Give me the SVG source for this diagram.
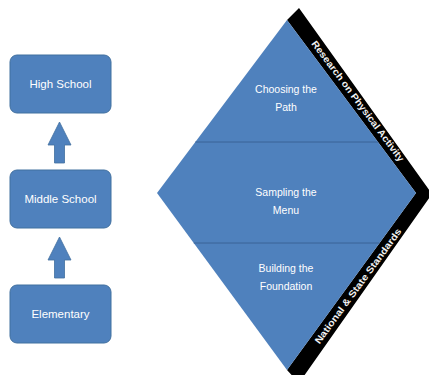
<svg xmlns="http://www.w3.org/2000/svg" width="429" height="375" viewBox="0 0 429 375">
<style>
.box{fill:#4f81bd;stroke:#41709f;stroke-width:1}
.t{font-family:"Liberation Sans",Arial,sans-serif;font-size:10.5px;fill:#ffffff;text-anchor:middle}
.lt{font-family:"Liberation Sans",Arial,sans-serif;font-size:11.5px;fill:#ffffff;text-anchor:middle}
.bt{font-family:"Liberation Sans",Arial,sans-serif;font-size:9.5px;font-weight:bold;fill:#f2f2f2;text-anchor:middle}
.arr{fill:#4f81bd;stroke:#41709f;stroke-width:0.8}
.div{stroke:#3a6396;stroke-width:1}
</style>
<rect width="429" height="375" fill="#ffffff"/>
<g id="high-school">
<rect class="box" x="10" y="55" width="101" height="58" rx="7"/>
<text class="lt" x="60.5" y="88">High School</text>
</g>
<g id="middle-school">
<rect class="box" x="10" y="170" width="101" height="58" rx="7"/>
<text class="lt" x="60.5" y="203">Middle School</text>
</g>
<g id="elementary">
<rect class="box" x="10" y="285" width="101" height="58" rx="7"/>
<text class="lt" x="60.5" y="318">Elementary</text>
</g>
<g id="connectors">
<polygon class="arr" points="59.5,122 71,145 64.5,145 64.5,163 54.5,163 54.5,145 48,145"/>
<polygon class="arr" points="59.5,237 71,260 64.5,260 64.5,278 54.5,278 54.5,260 48,260"/>
</g>
<g id="bands">
<polygon fill="#000000" points="287,20 299,8 432,194 299,383 287,370 416,193"/>
<text class="bt" transform="translate(358,101) rotate(53.3)" dy="3.3" textLength="148" lengthAdjust="spacingAndGlyphs">Research on Physical Activity</text>
<text class="bt" transform="translate(358,286) rotate(-53.9)" dy="3.3" textLength="140" lengthAdjust="spacingAndGlyphs">National &amp; State Standards</text>
</g>
<g id="diamond">
<polygon fill="#4f81bd" points="287,20 416,193 287,370 157,193"/>
<line class="div" x1="195.3" y1="142" x2="378" y2="142"/>
<line class="div" x1="193.7" y1="243" x2="379.6" y2="243"/>
</g>
<g id="choosing-the-path">
<text class="t" x="286" y="93">Choosing the</text>
<text class="t" x="286" y="111">Path</text>
</g>
<g id="sampling-the-menu">
<text class="t" x="286" y="196">Sampling the</text>
<text class="t" x="286" y="214">Menu</text>
</g>
<g id="building-the-foundation">
<text class="t" x="286" y="272">Building the</text>
<text class="t" x="286" y="290">Foundation</text>
</g>
</svg>
